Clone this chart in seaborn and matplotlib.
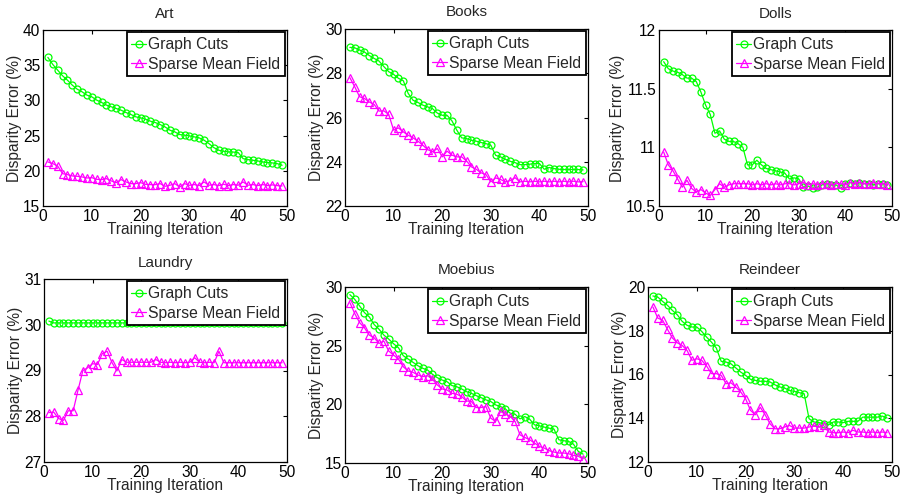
import numpy as np
import pandas as pd
import matplotlib
matplotlib.use("Agg")
import matplotlib.pyplot as plt
import seaborn as sns

iters = list(range(1, 50))

art_gc = [36.11, 35.11, 34.3, 33.5, 32.88, 32.17, 31.6, 31.22, 30.75, 30.51,
          30.04, 29.71, 29.33, 29.09, 28.85, 28.61, 28.28, 28.0, 27.67, 27.52,
          27.33, 27.05, 26.86, 26.57, 26.24, 25.77, 25.53, 25.15, 25.06, 24.96,
          24.82, 24.68, 24.35, 23.87, 23.3, 22.92, 22.78, 22.68, 22.66, 22.59,
          21.73, 21.59, 21.5, 21.4, 21.26, 21.17, 21.12, 21.02, 20.79]
art_smf = [21.26, 21.02, 20.69, 19.6, 19.46, 19.27, 19.22, 19.13, 18.98, 19.03,
           18.79, 18.75, 18.89, 18.56, 18.32, 18.75, 18.42, 18.18, 18.18, 18.32,
           18.08, 18.04, 18.04, 18.18, 17.8, 17.94, 18.18, 17.7, 18.18, 17.94,
           18.05, 17.9, 18.42, 17.95, 18.05, 17.9, 18.1, 17.9, 18.05, 17.95,
           18.42, 17.95, 18.05, 17.9, 18.05, 17.9, 18.0, 17.9, 17.85]

books_gc = [29.17, 29.15, 29.05, 28.96, 28.8, 28.67, 28.55, 28.3, 28.07, 27.95,
            27.77, 27.66, 27.09, 26.78, 26.68, 26.56, 26.48, 26.4, 26.2, 26.1,
            26.1, 25.85, 25.43, 25.08, 25.05, 24.97, 24.93, 24.87, 24.82, 24.75,
            24.29, 24.22, 24.11, 24.02, 23.96, 23.87, 23.87, 23.89, 23.92, 23.92,
            23.66, 23.74, 23.69, 23.66, 23.65, 23.65, 23.65, 23.65, 23.63]
books_smf = [27.8, 27.39, 26.94, 26.86, 26.7, 26.59, 26.29, 26.3, 26.14, 25.43,
             25.53, 25.35, 25.2, 25.08, 24.93, 24.75, 24.55, 24.45, 24.6, 24.22,
             24.48, 24.3, 24.22, 24.22, 24.04, 23.77, 23.66, 23.5, 23.42, 23.09,
             23.27, 23.2, 23.09, 23.15, 23.28, 23.09, 23.12, 23.09, 23.12, 23.09,
             23.12, 23.09, 23.12, 23.09, 23.12, 23.09, 23.12, 23.09, 23.1]

dolls_gc = [11.73, 11.67, 11.65, 11.64, 11.62, 11.59, 11.59, 11.56, 11.47, 11.36,
            11.28, 11.12, 11.14, 11.07, 11.05, 11.05, 11.03, 11.0, 10.85, 10.85,
            10.89, 10.85, 10.82, 10.81, 10.8, 10.79, 10.78, 10.73, 10.74, 10.73,
            10.66, 10.67, 10.65, 10.66, 10.68, 10.69, 10.68, 10.68, 10.65, 10.69,
            10.7, 10.69, 10.7, 10.69, 10.69, 10.68, 10.69, 10.69, 10.68]
dolls_smf = [10.96, 10.85, 10.8, 10.73, 10.66, 10.72, 10.65, 10.62, 10.64, 10.61,
             10.59, 10.64, 10.69, 10.66, 10.68, 10.69, 10.69, 10.69, 10.69, 10.68,
             10.69, 10.68, 10.69, 10.68, 10.69, 10.68, 10.69, 10.69, 10.68, 10.69,
             10.7, 10.68, 10.69, 10.68, 10.69, 10.69, 10.68, 10.69, 10.69, 10.68,
             10.7, 10.69, 10.7, 10.69, 10.69, 10.7, 10.69, 10.69, 10.68]

laundry_gc = [30.08] + [30.04] * 48
laundry_smf = [28.08, 28.09, 27.95, 27.91, 28.12, 28.12, 28.57, 29.0, 29.06, 29.15,
               29.13, 29.37, 29.42, 29.17, 28.99, 29.24, 29.18, 29.18, 29.18, 29.18,
               29.18, 29.18, 29.24, 29.18, 29.17, 29.18, 29.17, 29.18, 29.17, 29.18,
               29.28, 29.18, 29.17, 29.18, 29.17, 29.42, 29.17, 29.17, 29.17, 29.17,
               29.17, 29.17, 29.17, 29.17, 29.17, 29.17, 29.17, 29.17, 29.17]

moebius_gc = [29.35, 28.95, 28.39, 27.82, 27.45, 26.8, 26.4, 25.9, 25.56, 25.16,
              24.82, 24.14, 23.86, 23.58, 23.29, 23.07, 22.92, 22.56, 22.27, 22.07,
              21.93, 21.6, 21.5, 21.31, 21.08, 20.94, 20.74, 20.57, 20.38, 20.24,
              19.95, 19.81, 19.61, 19.24, 19.16, 18.76, 18.96, 18.73, 18.25, 18.17,
              18.06, 17.97, 17.89, 16.98, 16.9, 16.84, 16.61, 15.99, 15.75]
moebius_smf = [28.67, 27.74, 26.97, 26.52, 25.9, 25.67, 25.19, 25.39, 24.54, 24.2,
               23.86, 23.2, 22.84, 22.73, 22.5, 22.36, 22.44, 22.13, 21.65, 21.31,
               21.22, 20.94, 20.86, 20.66, 20.29, 20.24, 19.73, 19.73, 19.81, 18.82,
               18.54, 19.39, 19.16, 18.96, 18.54, 17.4, 17.18, 16.98, 16.7, 16.41,
               16.27, 16.05, 15.93, 15.85, 15.85, 15.79, 15.65, 15.57, 15.35]

reindeer_gc = [19.59, 19.54, 19.34, 19.16, 18.93, 18.73, 18.43, 18.25, 18.17, 18.17,
               17.97, 17.71, 17.48, 17.21, 16.6, 16.57, 16.49, 16.3, 16.11, 15.96,
               15.78, 15.73, 15.69, 15.69, 15.66, 15.53, 15.43, 15.38, 15.27, 15.23,
               15.17, 15.12, 13.98, 13.83, 13.8, 13.75, 13.7, 13.83, 13.83, 13.8,
               13.86, 13.86, 13.86, 14.05, 14.05, 14.05, 14.05, 14.1, 14.01]
reindeer_smf = [19.09, 18.58, 18.48, 18.06, 17.67, 17.45, 17.33, 17.1, 16.65, 16.72,
                16.65, 16.39, 16.04, 16.04, 15.96, 15.58, 15.62, 15.43, 15.2, 14.89,
                14.36, 14.16, 14.5, 14.16, 13.75, 13.52, 13.52, 13.6, 13.67, 13.55,
                13.55, 13.55, 13.6, 13.64, 13.6, 13.67, 13.37, 13.34, 13.34, 13.37,
                13.34, 13.45, 13.37, 13.37, 13.34, 13.37, 13.34, 13.37, 13.34]

titles = ["Art", "Books", "Dolls", "Laundry", "Moebius", "Reindeer"]
series = [(art_gc, art_smf), (books_gc, books_smf), (dolls_gc, dolls_smf),
          (laundry_gc, laundry_smf), (moebius_gc, moebius_smf), (reindeer_gc, reindeer_smf)]
ylims = [(15, 40), (22, 30), (10.5, 12), (27, 31), (15, 30), (12, 20)]
yticks = [[15, 20, 25, 30, 35, 40], [22, 24, 26, 28, 30], [10.5, 11, 11.5, 12],
          [27, 28, 29, 30, 31], [15, 20, 25, 30], [12, 14, 16, 18, 20]]
xticks = [0, 10, 20, 30, 40, 50]
labels = ["Graph Cuts", "Sparse Mean Field"]

sns.set_style("white")
plt.rcParams['font.family'] = ['Liberation Sans', 'DejaVu Sans']
plt.rcParams['font.size'] = 11

W, H = 906, 499
fig = plt.figure(figsize=(W / 100, H / 100), dpi=100)

# pixel boxes: left, right, top, bottom
boxes = [(43, 287, 30, 206), (345, 588, 29, 206), (659, 892, 30, 206),
         (44, 287, 279, 462), (345, 588, 287, 463), (648, 892, 287, 462)]

GREEN = "#00ff00"
MAG = "#ff00ff"

for t, (gc, smf), yl, yt, b in zip(titles, series, ylims, yticks, boxes):
    l, r, top, bot = b
    ax = fig.add_axes([l / W, 1 - bot / H, (r - l) / W, (bot - top) / H])
    df = pd.DataFrame({"iter": iters, "gc": gc, "smf": smf})
    sns.lineplot(data=df, x="iter", y="gc", ax=ax, color=GREEN, marker="o",
                 markersize=5, markerfacecolor="none", markeredgecolor=GREEN,
                 markeredgewidth=0.9, linewidth=0.9, label=labels[0])
    sns.lineplot(data=df, x="iter", y="smf", ax=ax, color=MAG, marker="^",
                 markersize=5.5, markerfacecolor="none", markeredgecolor=MAG,
                 markeredgewidth=0.9, linewidth=0.9, label=labels[1])
    ax.set_xlim(0, 50)
    ax.set_ylim(*yl)
    ax.set_xticks(xticks)
    ax.set_yticks(yt)
    ax.set_yticklabels([("%g" % v) for v in yt])
    ax.tick_params(direction="in", length=3, width=0.8, top=True, right=True,
                   labelsize=11.2, pad=2, colors="black")
    for s in ax.spines.values():
        s.set_color("black")
        s.set_linewidth(0.9)
    ax.set_xlabel("Training Iteration", fontsize=11.2, labelpad=-1)
    ax.set_ylabel("Disparity Error (%)", fontsize=11.2, labelpad=1)
    ax.set_title(t, fontsize=11, pad=9)
    leg = ax.legend(loc="upper right", fontsize=11.3, frameon=True, fancybox=False,
                    edgecolor="black", framealpha=1, borderaxespad=0.15,
                    handlelength=0.95, handletextpad=0.1, borderpad=0.3,
                    labelspacing=0.3)
    leg.get_frame().set_linewidth(1.3)

fig.savefig("out.png", dpi=100)
